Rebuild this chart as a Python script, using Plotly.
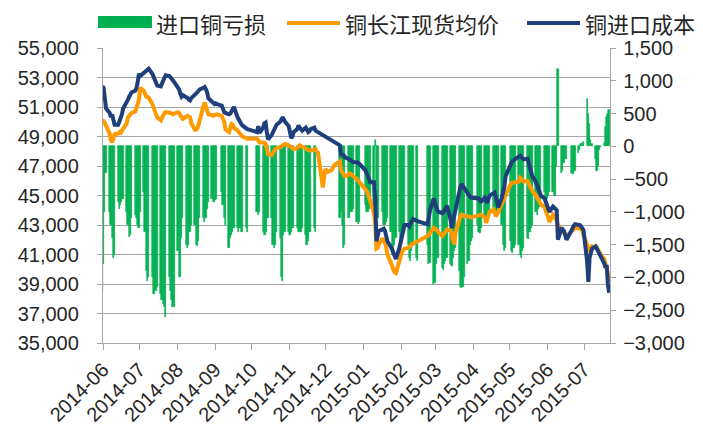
import pandas as pd
import plotly.graph_objects as go

# ---------------- data ----------------
start_date = "2014-06-03"
end_date = "2015-07-24"
holidays = ["2014-09-08", "2014-10-01", "2014-10-02", "2014-10-03", "2014-10-06", "2014-10-07",
            "2015-01-01", "2015-01-02", "2015-02-18", "2015-02-19", "2015-02-20", "2015-02-23",
            "2015-02-24", "2015-04-06", "2015-05-01", "2015-06-22"]

month_labels = ["2014-06", "2014-07", "2014-08", "2014-09", "2014-10", "2014-11", "2014-12",
                "2015-01", "2015-02", "2015-03", "2015-04", "2015-05", "2015-06", "2015-07"]

series_names = ["进口铜亏损", "铜长江现货均价", "铜进口成本"]

N = None
# 进口铜亏损 (right axis), one row per week
loss = [
    -2200, -1800, -1000, -400,
    -1000, -1200, -1400, -1700, -1650,
    -850, -950, -900, -850, -800,
    -1000, -1200, -1380, -1350, -1100,
    -1050, -1100, -1200, -1250, -1000,
    -700, -1300, -1900, -2050, -2000,
    -2000, -2250, -2250, -2200, -2150,
    -2250, -2350, -2400, -2450, -2600,
    -2000, -2200, -2350, -2450, -2450,
    -1600, -2000, -2000, -1400, -1100,
    -1500, -1550, -1500, -1300, -1200,
    -1200, -1500, -1520, -1450, -1100,
    -1100, -1150, -1100, -950, -850,
    -800, -850, -850, -820, -800,
    -700, -900, -1100, -1200,
    -1550, -1400, -1350, -1300, -1250,
    -1250, -1300, -1250, -1300, -1300,
    -1250, -1300,
    -1000, -1050, -1000,
    -1300, -1350, -1350, -1300, -1100,
    -1100, -1500, -1550, -1500, -1300,
    -1400, -2000, -2050, -1350, -1300,
    -1300, -1350, -1300, -1250, -1250,
    -1250, -1300, -1300, -1300, -1250,
    -1350, -1500, -1450, -1300, -1300,
    -1250, -1300, N, N, N,
    N, N, N, N, N,
    N, N, N, N, N,
    -1100, -1000, -1200, -1550, -1500,
    -1100, -1100, -1000, -1000, -950,
    -1150, -1190, -1150,
    -900, -1000, -1000, -950, -900,
    -1000, 90, -600, -1100, -1100,
    -1000, -1200, -1200, -1150, -1100,
    -1300, -1650, -1600, -1500, -1400,
    -1300, -1450, -1400, -1350, -1300,
    -1500, -1700, -1750, -1600, -1500,
    -1700, -1750,
    -1500, -1800, -1780,
    -2100, -2080, -1800, -1700, -1700,
    -1850, -1880, -1800, -1750, -1700,
    -1800, -1820, -1700, -1600, -1550,
    -1900, -2150, -2160, -2150, -2000,
    -1800, -1750, -1500, -1450, -1400,
    -1200, -1300, -1320, -1250,
    -1100, -1150, -1170, -1100, -1050,
    -950, -1000, -1050, -1000, -950,
    -1200, -1500, -1600, -1550,
    -1450, -1600, -1620, -1550, -1500,
    -1500, -1650, -1700, -1600, -1550,
    -1400, -1420, -1300, -1250, -1200,
    -1000, -1040, -950, -930, -900,
    -700, -780, -800, -750, -700,
    -700, -760, -750, -300, 1180,
    -400, -380, -250, -200, -190,
    -400, -425, -420, -380,
    -100, -50, 30, 50, 60,
    720, 500, 340, 100, 30,
    -200, -370, -300, -50, -10,
    50, 300, 440, 500, 550,
]

# 铜长江现货均价 (left axis)
price = [
    50100, 50050, 49900, 49700,
    49200, 48750, 48600, 48900, 49150,
    49200, 49300, 49250, 49400, 49500,
    49900, 50300, 50400, 50500, 50600,
    50700, 50900, 51200, 51500, 52300,
    52100, 51800, 51700, 51700, 51650,
    51200, 51000, 50700, 50500, 50300,
    50100, 50300, 50500, 50600, 50650,
    50650, 50600, 50550, 50500, 50550,
    50650, 50600, 50400, 50300, 50200,
    50300, 50400, 50350, 50300, 49900,
    49450, 49450, 49550, 49800, 50200,
    51100, 51300, 51000, 50800, 50500,
    50450, 50400, 50450, 50500, 50500,
    50400, 50200, 50000, 49500,
    49300, 49600, 49850, 49800, 49600,
    49400, 49300, 49200, 49100, 49000,
    48900, 48850,
    48850, 48750, 48600,
    48600, 48600, 48500, 48100, 47800,
    47750, 47900, 48000, 48150, 48200,
    48250, 48300, 48400, 48450, 48500,
    48400, 48300, 48250, 48200, 48150,
    48200, 48300, 48400, 48350, 48300,
    48200, 48150, 48100, 48050, 48050,
    48100, 48150, 48000, 47900, 47300,
    45550, 46200, 46800, 46700, 46600,
    46700, 46900, 47000, 47100, 47150,
    47300, 46700, 46550, 46400, 46300,
    46400, 46500, 46450, 46350, 46300,
    46100, 46000, 45900,
    45500, 45300, 45100, 44900, 44600,
    43800, 43000, 41400, 41450, 41700,
    42100, 41900, 41800, 41500, 41000,
    40400, 40100, 39950, 39800, 39750,
    40600, 41100, 41200, 41300, 41400,
    41450, 41500, 41600, 41700, 41750,
    41850, 41900,
    42250, 42350, 42500,
    42800, 42750, 42650, 42600, 42500,
    42250, 42350, 42450, 42550, 42700,
    42600, 42400, 41900, 41700, 42500,
    43400, 43600, 43700, 43650, 43600,
    43600, 43550, 43500, 43500, 43550,
    43600, 43650, 43700, 43700,
    43500, 43150, 43400, 43700, 43900,
    44050, 43800, 43600, 43700, 43900,
    44400, 44650, 44900, 45100,
    45750, 45850, 45900, 45900, 45880,
    45950, 46200, 46150, 46050, 45950,
    46000, 45800, 45650, 45450, 45300,
    45000, 44850, 44700, 44550, 44400,
    44200, 44000, 43800, 43500, 43200,
    43700, 43600, 43500, 43300, 43000,
    42700, 42500, 42400, 42300, 42250,
    42550, 42650, 42750, 42800,
    42800, 42750, 42700, 42650, 42300,
    41600, 41300, 41200, 41400, 41550,
    41450, 41450, 41300, 41150, 41000,
    40700, 40400, 40100, 39700, 39200,
]

# 铜进口成本 (left axis)
cost = [
    52400, 52300, 51600, 50900,
    50600, 50300, 50500, 50000, 49800,
    49800, 50000, 50200, 50500, 50900,
    51300, 51500, 51700, 51900, 52000,
    52100, 52300, 52700, 53250, 53100,
    53350, 53400, 53500, 53550, 53600,
    53250, 53000, 52800, 52600, 52450,
    52400, 52550, 52800, 53000, 53150,
    53100, 52950, 52900, 52800, 52700,
    52400, 52200, 51900, 51700, 51800,
    51700, 51600, 51500, 51450, 51600,
    51800, 51900, 52000, 52100, 52200,
    52300, 52350, 52200, 52000, 51600,
    51300, 51250, 51200, 51250, 51200,
    51100, 50800, 50650, 50600,
    50500, 50550, 50700, 50900, 51000,
    50300, 50100, 49950, 49850, 49750,
    49600, 49500,
    49300, 49700, 49250,
    49600, 49900, 49950, 49300, 48800,
    49100, 49300, 49500, 49600, 49800,
    50000, 50200, 50300, 50150, 50000,
    49700, 49400, 48900, 49000, 49300,
    49500, 49750, 49600, 49450, 49400,
    49600, 49500, 49300, 49350, 49500,
    49600, 49400, N, N, N,
    N, N, N, N, N,
    N, N, N, N, N,
    48400, 47700, 47800, 47750, 47600,
    47500, 47450, 47400, 47300, 47250,
    47250, 47200, 47150,
    46700, 46500, 46300, 46100, 45900,
    45900, 44800, 41900, 42400, 42600,
    42700, 42750, 42600, 42300, 41900,
    41500, 41300, 41100, 40900, 40700,
    41500, 41900, 42300, 42700, 43000,
    43000, 42900, 43100, 43300, 43400,
    43300, 43250,
    43050, 43600, 44000,
    44800, 44500, 44200, 44000, 43900,
    43800, 43900, 44050, 44200, 44300,
    43300, 42800, 43300, 43700, 44300,
    45300, 45600, 45770, 45650, 45500,
    45100, 44950, 44900, 44850, 44850,
    44850, 44800, 44650, 44600,
    44850, 44700, 44500, 44800, 45000,
    45150, 45200, 44900, 44400, 44200,
    44850, 45200, 45600, 46300,
    47150, 47250, 47350, 47400, 47450,
    47650, 47700, 47600, 47500, 47450,
    47500, 47200, 46900, 46600, 46300,
    45900, 45700, 45500, 45200, 45000,
    44800, 44550, 44400, 44200, 43900,
    44250, 44200, 44100, 44000, 42000,
    42800, 42700, 42600, 42300, 42000,
    42600, 42850, 42950, 43050,
    43050, 43000, 42900, 42800, 42650,
    40500, 39150, 40800, 41200, 41400,
    41550, 41400, 41250, 41100, 40950,
    40400, 40100, 40300, 39000, 38400,
]

# ---------------- build ----------------
dates = [d for d in pd.bdate_range(start_date, end_date) if d.strftime("%Y-%m-%d") not in holidays]
n = len(dates)
assert len(loss) == n and len(price) == n and len(cost) == n, (n, len(loss), len(price), len(cost))

GREEN = "#00B050"
ORANGE = "#FF9900"
NAVY = "#1F3F7A"
GRID = "#A6A6A6"
TXT = "#262626"

fig = go.Figure()
fig.add_trace(go.Bar(x=dates, y=loss, name=series_names[0], marker_color=GREEN,
                     marker_line_width=0.6, marker_line_color=GREEN,
                     width=86400000 * 1.0, yaxis="y", showlegend=False))
fig.add_trace(go.Scatter(x=dates, y=price, name=series_names[1], mode="lines",
                         line=dict(color=ORANGE, width=4), yaxis="y2",
                         connectgaps=True, showlegend=False))
fig.add_trace(go.Scatter(x=dates, y=cost, name=series_names[2], mode="lines",
                         line=dict(color=NAVY, width=4), yaxis="y2",
                         connectgaps=True, showlegend=False))

tickvals = [pd.Timestamp(m + "-03") + pd.Timedelta(hours=12) for m in month_labels]

# the page body adds an 8px offset; figure coords = page coords - 8
OFF = 8
W, H = 703 - OFF, 434 - OFF
L, T = 103 - OFF, 48 - OFF
R = W - (610 - OFF)
B = H - (343 - OFF)
pw, ph = W - L - R, H - T - B

def px(x):  # page x -> paper
    return (x - OFF - L) / pw

def py(y):  # page y -> paper
    return (H - B - (y - OFF)) / ph

num_font = dict(family="Liberation Sans, Arial, sans-serif", size=20, color=TXT)

fig.update_layout(
    width=W, height=H,
    margin=dict(l=L, r=R, t=T, b=B, autoexpand=False),
    paper_bgcolor="white", plot_bgcolor="white",
    bargap=0,
    xaxis=dict(type="date", automargin=False,
               range=[pd.Timestamp(start_date) + pd.Timedelta(hours=12),
                      pd.Timestamp(end_date) + pd.Timedelta(hours=18)],
               tickvals=tickvals, ticktext=month_labels, tickangle=-45,
               ticks="outside", ticklen=6, tickcolor=GRID, tickwidth=1.3,
               showline=True, linecolor=GRID, linewidth=1.3,
               showgrid=False, zeroline=False, tickfont=num_font),
    yaxis=dict(range=[-3000, 1500], tick0=-3000, dtick=500, tickformat=",", side="right",
               automargin=False,
               showgrid=False, zeroline=False, showline=True, linecolor=GRID, linewidth=1.3,
               ticks="outside", ticklen=5, tickcolor=GRID, tickwidth=1.3,
               tickfont=num_font, ticklabelstandoff=3),
    yaxis2=dict(range=[35000, 55000], tick0=35000, dtick=2000, tickformat=",", side="left",
                overlaying="y", automargin=False,
                showgrid=True, gridcolor=GRID, gridwidth=1.3,
                zeroline=False, showline=True, linecolor=GRID, linewidth=1.3,
                ticks="outside", ticklen=5, tickcolor=GRID, tickwidth=1.3,
                tickfont=num_font, ticklabelstandoff=14),
    showlegend=False,
)

# legend drawn manually (Excel style), positions in page pixels
leg_y = 23
cjk = dict(family="Noto Sans CJK SC", size=22, color=TXT)
fig.add_shape(type="rect", xref="paper", yref="paper",
              x0=px(98), x1=px(152), y0=py(28), y1=py(16),
              fillcolor=GREEN, line=dict(width=0))
fig.add_shape(type="line", xref="paper", yref="paper",
              x0=px(287), x1=px(340), y0=py(leg_y), y1=py(leg_y),
              line=dict(color=ORANGE, width=4))
fig.add_shape(type="line", xref="paper", yref="paper",
              x0=px(527), x1=px(580), y0=py(leg_y), y1=py(leg_y),
              line=dict(color=NAVY, width=4))
for xpos, name in zip([155, 344, 584], series_names):
    fig.add_annotation(text=name, xref="paper", yref="paper", x=px(xpos), y=py(leg_y),
                       xanchor="left", yanchor="middle", showarrow=False, font=cjk,
                       borderpad=0)

fig.write_html("out.html")
